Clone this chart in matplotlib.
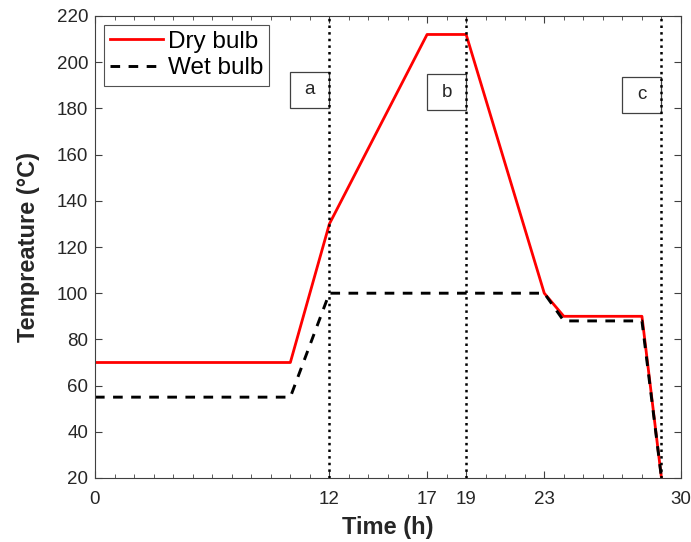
import matplotlib
matplotlib.use('Agg')
import matplotlib.pyplot as plt
from matplotlib.patches import Rectangle
from matplotlib.ticker import MultipleLocator

plt.rcParams['font.family'] = ['Liberation Sans', 'DejaVu Sans']

# data
dry_t = [0, 10, 12, 17, 19, 23, 24, 28, 29]
dry_T = [70, 70, 130, 212, 212, 100, 90, 90, 20]
wet_t = [0, 10, 12, 23, 24, 28, 29]
wet_T = [55, 55, 100, 100, 88, 88, 20]
stage_t = [12, 19, 29]
stage_labels = ['a', 'b', 'c']
stage_y = [188, 187, 186]
xticks = [0, 12, 17, 19, 23, 30]

fig = plt.figure(figsize=(6.91, 5.42), dpi=100)
ax = fig.add_axes([95 / 691, 1 - 478 / 542, 586 / 691, 462 / 542])

ax.plot(dry_t, dry_T, color='red', lw=2, label='Dry bulb')
ax.plot(wet_t, wet_T, color='black', lw=2.1, ls=(0, (3.3, 2.9)), label='Wet bulb')

# stage markers: dotted line with a labelled box just left of it
bw, bh = 2.0, 15.6
for t, lab, y in zip(stage_t, stage_labels, stage_y):
    ax.axvline(t, color='black', lw=1.8, ls=':', zorder=3)
    ax.add_patch(Rectangle((t - bw, y - bh / 2), bw, bh, fc='white', ec='#404040', lw=0.9, zorder=2))
    ax.text(t - bw / 2, y, lab, ha='center', va='center', fontsize=13.5, color='#262626', zorder=4)

ax.set_xlim(0, 30)
ax.set_ylim(20, 220)
ax.set_xticks(xticks)
ax.xaxis.set_minor_locator(MultipleLocator(1))
ax.set_yticks(range(20, 221, 20))
ax.tick_params(which='both', direction='in', top=True, right=True, colors='#404040',
               labelcolor='#262626', labelsize=13.5)
ax.tick_params(which='major', length=5)
ax.tick_params(which='minor', length=3)
ax.tick_params(axis='x', pad=9)
ax.tick_params(axis='y', pad=5)
for s in ax.spines.values():
    s.set_color('#404040')

ax.set_xlabel('Time (h)', fontsize=17, fontweight='bold', color='#262626', labelpad=6)
ax.set_ylabel('Tempreature (°C)', fontsize=17, fontweight='bold', color='#262626', labelpad=12)

leg = ax.legend(loc='upper left', fontsize=17.5, fancybox=False, edgecolor='#262626',
                handlelength=2.2, borderaxespad=0.35, borderpad=0.25, labelspacing=0.2,
                handletextpad=0.2)
leg.get_frame().set_linewidth(0.8)

fig.savefig('out.png', dpi=100)
